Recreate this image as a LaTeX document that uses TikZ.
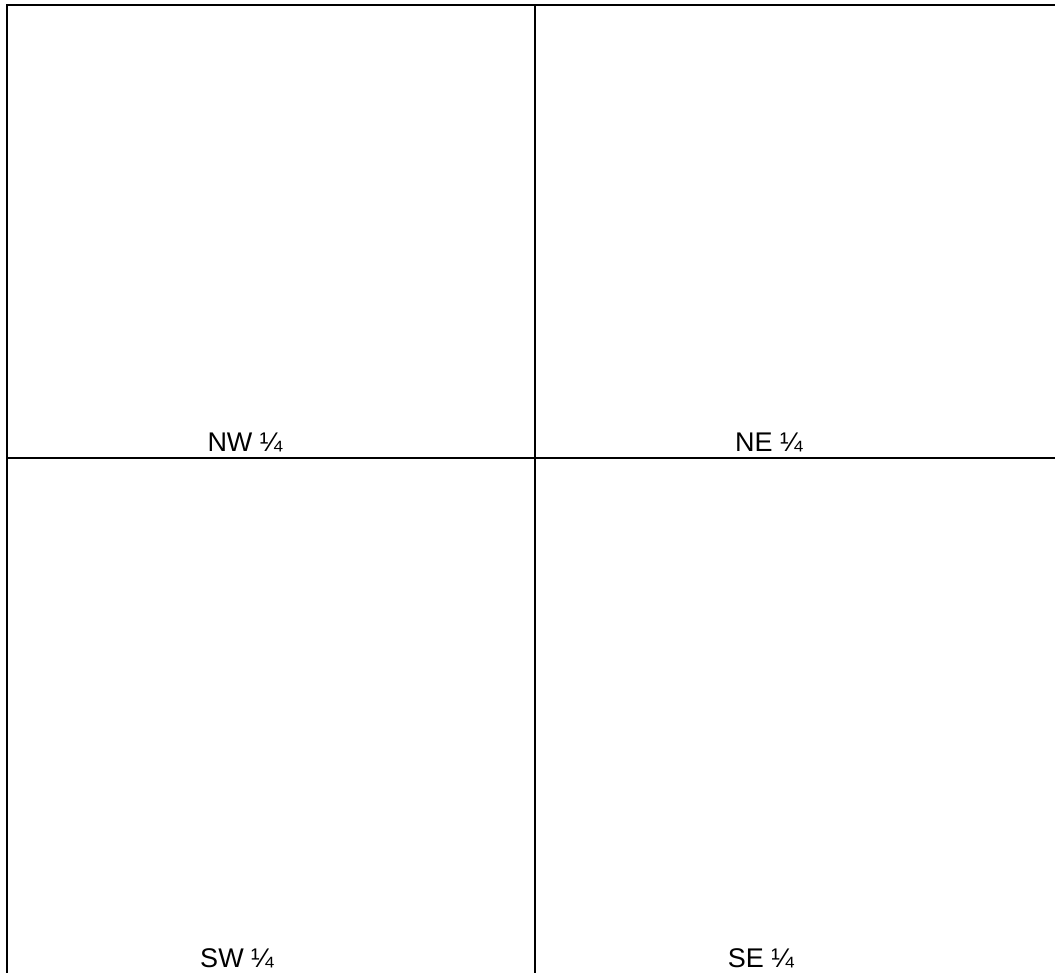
\documentclass[tikz,border=0pt]{standalone}
\usepackage{fontspec}
\setmainfont{Liberation Sans}
\begin{document}
\begin{tikzpicture}[x=1pt,y=-1pt,
  gridline/.style={line width=2pt, black},
  celllabel/.style={anchor=base, inner sep=0pt, font=\fontsize{27}{32}\selectfont}]
\useasboundingbox (0,0) rectangle (1055,973);
\coordinate (tl) at (7,5);
\coordinate (tr) at (1056,5);
\coordinate (bl) at (7,974);
\coordinate (mt) at (535,5);
\coordinate (mb) at (535,974);
\coordinate (ml) at (7,457.5);
\coordinate (mr) at (1056,457.5);
\draw[gridline] (tr) -- (tl) -- (bl);
\draw[gridline] (mt) -- (mb);
\draw[gridline] (ml) -- (mr);
\node[celllabel] (nw) at (245,451) {NW ¼};
\node[celllabel] (ne) at (769,451) {NE ¼};
\node[celllabel] (sw) at (237,967) {SW ¼};
\node[celllabel] (se) at (761,967) {SE ¼};
\end{tikzpicture}
\end{document}
